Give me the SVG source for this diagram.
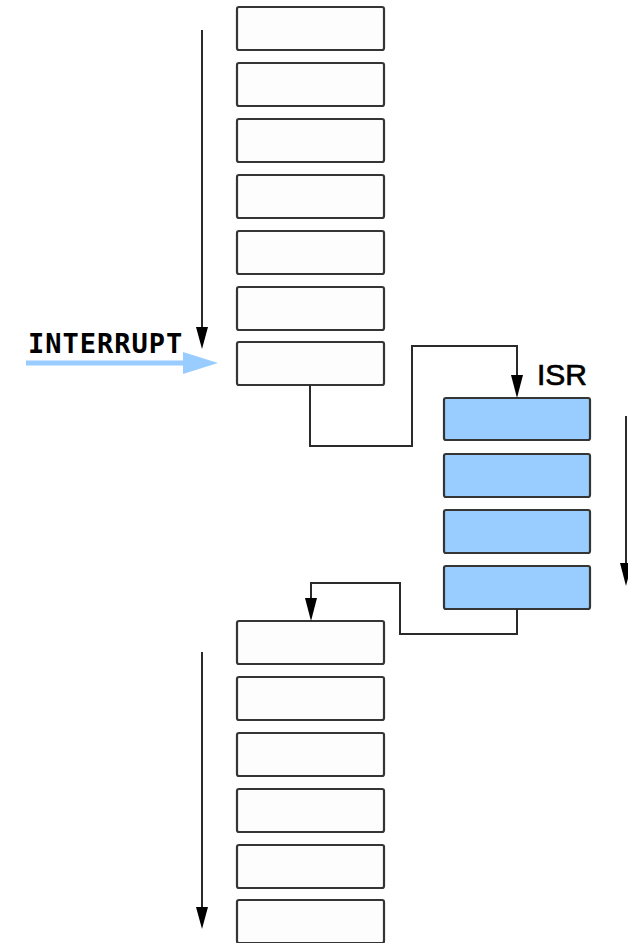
<svg xmlns="http://www.w3.org/2000/svg" width="628" height="943" viewBox="0 0 628 943">
  <style>
    .box { fill: #fdfdfd; stroke: #353535; stroke-width: 2.2; }
    .isr { fill: #99ccff; stroke: #353535; stroke-width: 2.2; }
    .wire { fill: none; stroke: #2a2a2a; stroke-width: 2; }
    .flow { fill: none; stroke: #2a2a2a; stroke-width: 2; }
    .head { fill: #000; }
  </style>
  <rect width="628" height="943" fill="#ffffff"/>

  <!-- main program instructions before the interrupt -->
  <g id="main-before">
    <rect id="m1" class="box" x="237" y="7" width="147" height="43" rx="2"/>
    <rect id="m2" class="box" x="237" y="63" width="147" height="43" rx="2"/>
    <rect id="m3" class="box" x="237" y="119" width="147" height="43" rx="2"/>
    <rect id="m4" class="box" x="237" y="175" width="147" height="43" rx="2"/>
    <rect id="m5" class="box" x="237" y="231" width="147" height="43" rx="2"/>
    <rect id="m6" class="box" x="237" y="287" width="147" height="43" rx="2"/>
    <rect id="m7" class="box" x="237" y="342" width="147" height="43" rx="2"/>
  </g>

  <!-- interrupt service routine -->
  <g id="isr">
    <rect id="i1" class="isr" x="444" y="398" width="146" height="42" rx="2"/>
    <rect id="i2" class="isr" x="444" y="454" width="146" height="43" rx="2"/>
    <rect id="i3" class="isr" x="444" y="510" width="146" height="43" rx="2"/>
    <rect id="i4" class="isr" x="444" y="566" width="146" height="43" rx="2"/>
    <text x="537" y="385" font-family="Liberation Sans, Arial, sans-serif" font-size="30" fill="#000" stroke="#000" stroke-width="0.7">ISR</text>
  </g>

  <!-- main program instructions after returning -->
  <g id="main-after">
    <rect id="r1" class="box" x="237" y="621" width="147" height="43" rx="2"/>
    <rect id="r2" class="box" x="237" y="677" width="147" height="43" rx="2"/>
    <rect id="r3" class="box" x="237" y="733" width="147" height="43" rx="2"/>
    <rect id="r4" class="box" x="237" y="789" width="147" height="43" rx="2"/>
    <rect id="r5" class="box" x="237" y="845" width="147" height="43" rx="2"/>
    <rect id="r6" class="box" x="237" y="900" width="147" height="43" rx="2"/>
  </g>

  <!-- interrupt signal -->
  <g id="interrupt">
    <text x="28" y="353" font-family="DejaVu Sans Mono, monospace" font-weight="bold" font-size="27" letter-spacing="1" fill="#000">INTERRUPT</text>
    <line x1="26" y1="363" x2="186" y2="363" stroke="#99ccff" stroke-width="5"/>
    <polygon points="183,352 218,363 183,374" fill="#99ccff"/>
  </g>

  <g id="connectors">
    <!-- execution flow arrows -->
    <line class="flow" x1="202" y1="30" x2="202" y2="330"/>
    <polygon class="head" points="196,327 208,327 202,349"/>
    <line class="flow" x1="626" y1="416" x2="626" y2="566"/>
    <polygon class="head" points="620,563 632,563 626,586"/>
    <line class="flow" x1="202" y1="652" x2="202" y2="910"/>
    <polygon class="head" points="196,907 208,907 202,929"/>

    <!-- jump into the ISR -->
    <polyline class="wire" points="310,385 310,446 412,446 412,346 517,346 517,378"/>
    <polygon class="head" points="511,375 523,375 517,398"/>

    <!-- return from the ISR -->
    <polyline class="wire" points="517,609 517,634 400,634 400,583 311,583 311,601"/>
    <polygon class="head" points="305,598 317,598 311,621"/>
  </g>
</svg>
